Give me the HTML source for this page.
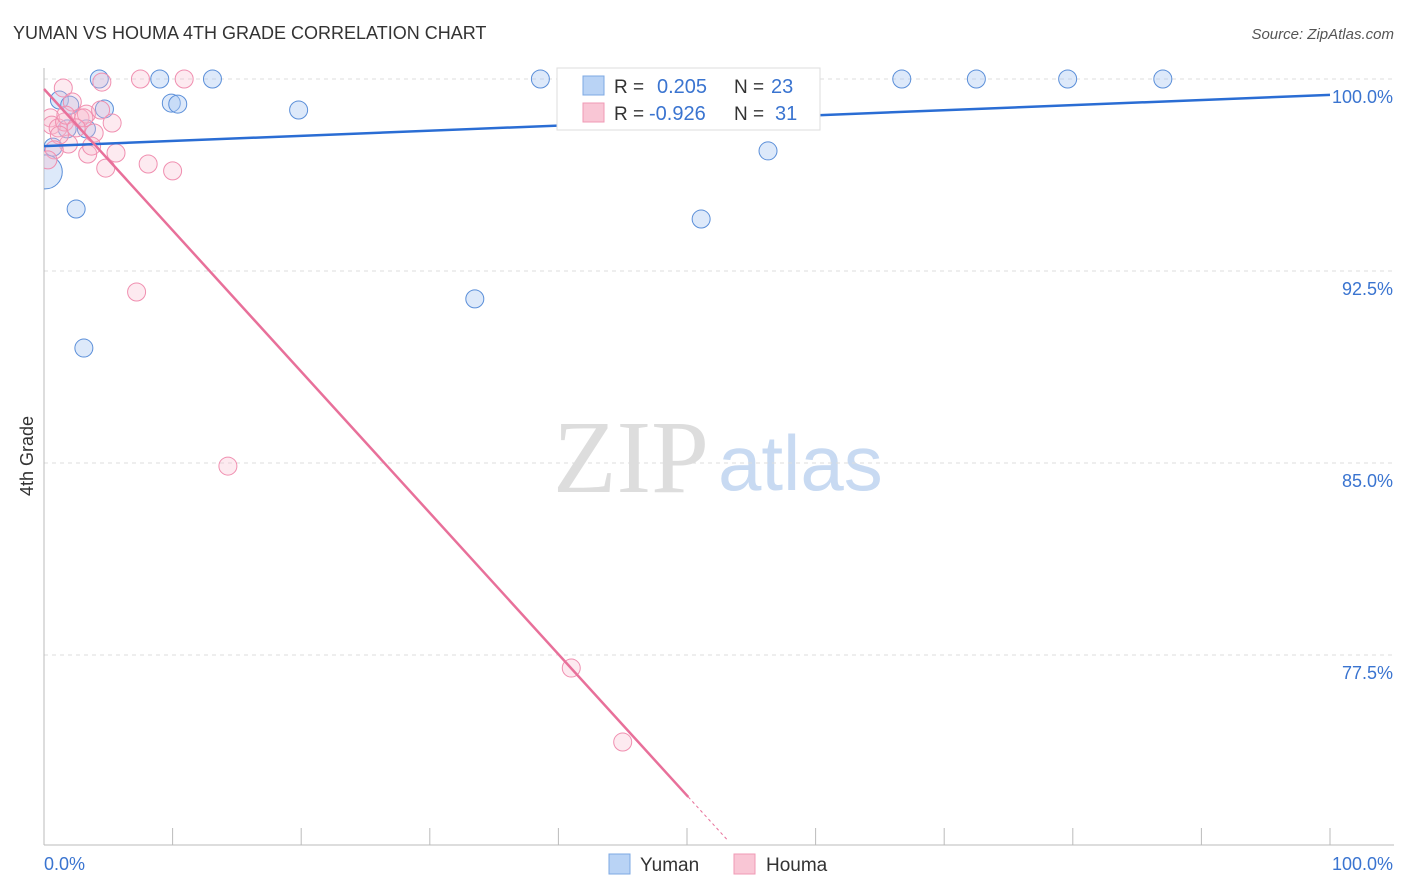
<!DOCTYPE html>
<html><head><meta charset="utf-8"><style>
body{margin:0;background:#fff;font-family:"Liberation Sans",sans-serif;}
</style></head><body>
<svg id="c" width="1406" height="892" style="position:absolute;left:0;top:0">
<defs><clipPath id="pc"><rect x="44" y="50" width="1360" height="795"/></clipPath></defs>
<text x="13" y="39" font-size="18" fill="#333">YUMAN VS HOUMA 4TH GRADE CORRELATION CHART</text>
<text x="1394" y="39" font-size="15" fill="#555" font-style="italic" text-anchor="end">Source: ZipAtlas.com</text>
<text x="33" y="456" font-size="18" fill="#333" transform="rotate(-90 33 456)" text-anchor="middle">4th Grade</text>
<text x="553" y="492" font-size="104" fill="#ddd" font-family="Liberation Serif,serif">ZIP</text>
<text x="718" y="490" font-size="78" fill="#c8daf2">atlas</text>
<g id="grid"></g><g id="pts" clip-path="url(#pc)"></g><g id="lines"></g>
<g>
<rect x="557" y="68" width="263" height="62" fill="#fff" stroke="#ddd"/>
<rect x="583" y="76" width="21" height="19" fill="#b9d3f5" stroke="#7da8e3"/>
<rect x="583" y="103" width="21" height="19" fill="#f9c6d5" stroke="#f09ab5"/>
<text x="614" y="93" font-size="19" fill="#333">R =</text><text x="657" y="93" font-size="20" fill="#3a74d0">0.205</text>
<text x="734" y="93" font-size="19" fill="#333">N =</text><text x="771" y="93" font-size="20" fill="#3a74d0">23</text>
<text x="614" y="120" font-size="19" fill="#333">R =</text><text x="649" y="120" font-size="20" fill="#3a74d0">-0.926</text>
<text x="734" y="120" font-size="19" fill="#333">N =</text><text x="775" y="120" font-size="20" fill="#3a74d0">31</text>
</g>
<g>
<rect x="609" y="854" width="21" height="20" fill="#b9d3f5" stroke="#7da8e3"/><text x="640" y="871" font-size="19" fill="#333">Yuman</text>
<rect x="734" y="854" width="21" height="20" fill="#f9c6d5" stroke="#f09ab5"/><text x="766" y="871" font-size="19" fill="#333">Houma</text>
</g>
<text x="44" y="870" font-size="18" fill="#3a74d0">0.0%</text>
<text x="1393" y="870" font-size="18" fill="#3a74d0" text-anchor="end">100.0%</text>
</svg>
<script>
const yTicks=[100,92.5,85,77.5];
const yumanX=[4.3,9.0,13.1,38.6,66.7,72.5,79.6,87.0,1.2,2.0,4.7,9.9,10.4,19.8,3.3,1.8,0.7,0.1,56.3,2.5,51.1,33.5,3.1];
const yumanY=[100,100,100,100,100,100,100,100,99.18,98.98,98.83,99.06,99.02,98.79,98.05,98.05,97.34,96.37,97.19,94.92,94.53,91.41,89.49];
const houmaX=[1.5,4.5,7.5,10.9,2.2,0.5,0.6,1.1,1.6,2.8,3.3,4.4,5.3,3.9,1.9,1.2,0.8,3.4,5.6,4.8,8.1,10.0,7.2,14.3,41.0,45.0,0.3,3.7,3.1,1.7,2.5];
const houmaY=[99.65,99.88,100,100,99.1,98.48,98.2,98.09,98.32,98.48,98.63,98.79,98.28,97.89,97.46,97.81,97.23,97.07,97.11,96.52,96.68,96.41,91.68,84.88,76.99,74.1,96.84,97.38,98.48,98.59,98.09];
const yumanTrend=[97.38,99.38];
const houmaTrend=[99.61,-0.552];
const X=v=>44+v*12.86, Y=v=>79+(100-v)*25.6;
const NS='http://www.w3.org/2000/svg';
function mk(t,a,p){const e=document.createElementNS(NS,t);for(const k in a)e.setAttribute(k,a[k]);p.appendChild(e);return e;}
const g=document.getElementById('grid');
yTicks.forEach(t=>{
const l=mk('line',{x1:44,x2:1394,y1:Y(t),y2:Y(t),stroke:'#ddd','stroke-dasharray':'4,4'},g);


const tx=mk('text',{x:1393,y:Y(t)+24,'font-size':18,fill:'#3a74d0','text-anchor':'end'},g);
tx.textContent=t.toFixed(1)+'%';


});
mk('line',{x1:44,x2:44,y1:68,y2:845,stroke:'#bbb'},g);
mk('line',{x1:44,x2:1394,y1:845,y2:845,stroke:'#bbb'},g);
for(let i=0;i<=10;i++){const t=mk('line',{x1:X(i*10),x2:X(i*10),y1:828,y2:845,stroke:'#bbb'},g);

}
const p=document.getElementById('pts');
yumanX.forEach((x,i)=>{const c=mk('circle',{cx:X(x),cy:Y(yumanY[i]),r:(x<0.5&&yumanY[i]<96.5)?17:9,fill:'rgba(170,200,242,0.4)',stroke:'#5b8fd9','stroke-width':1},p);

});
houmaX.forEach((x,i)=>{const c=mk('circle',{cx:X(x),cy:Y(houmaY[i]),r:9,fill:'rgba(248,185,205,0.3)',stroke:'#f08fb0','stroke-width':1},p);

});
const L=document.getElementById('lines');
const yl=mk('line',{x1:X(0),y1:Y(yumanTrend[0]),x2:X(100),y2:Y(yumanTrend[1]),stroke:'#2a6dd4','stroke-width':2.5},L);


const hy=x=>houmaTrend[0]+houmaTrend[1]*x;
const hl=mk('line',{x1:X(0),y1:Y(hy(0)),x2:X(50.1),y2:Y(hy(50.1)),stroke:'#e8709a','stroke-width':2.5},L);


const hd=mk('line',{x1:X(50.1),y1:Y(hy(50.1)),x2:X(53.1),y2:Y(hy(53.1)),stroke:'#e8709a','stroke-width':1,'stroke-dasharray':'3,3'},L);


</script>
</body></html>
